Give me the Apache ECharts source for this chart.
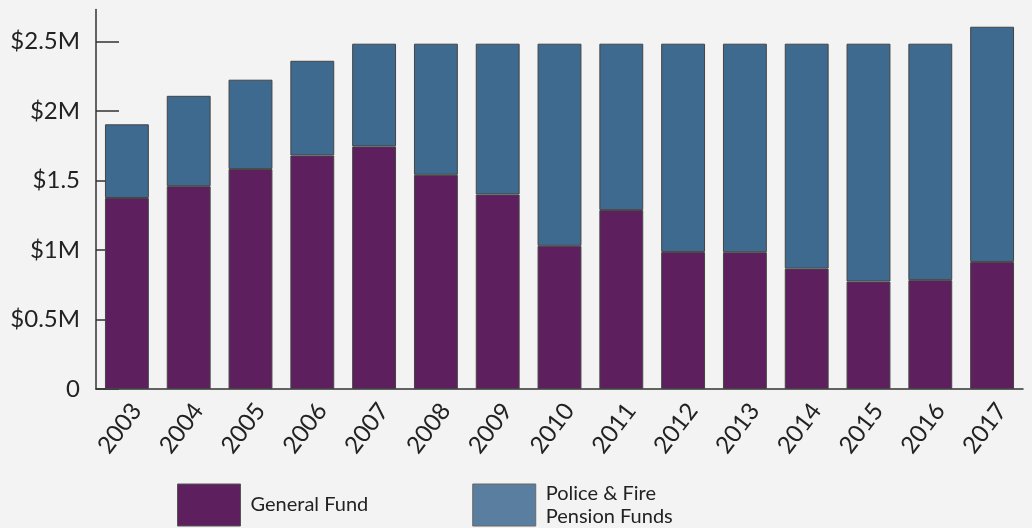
<!DOCTYPE html>
<html>
<head>
<meta charset="utf-8">
<script src="https://cdn.jsdelivr.net/npm/echarts@6/dist/echarts.min.js"></script>
<style>
html,body{margin:0;padding:0;background:#f3f3f3;}
#c{width:1032px;height:528px;}
</style>
</head>
<body>
<div id="c"></div>
<script>
const years = ['2003','2004','2005','2006','2007','2008','2009','2010','2011','2012','2013','2014','2015','2016','2017'];
const generalFund = [1.374,1.459,1.582,1.680,1.745,1.541,1.399,1.030,1.287,0.986,0.984,0.866,0.773,0.783,0.914];
const pensionFunds = [0.530,0.650,0.643,0.681,0.739,0.943,1.085,1.454,1.197,1.498,1.500,1.618,1.711,1.701,1.692];
const yTickValues = [0,0.5,1,1.5,2,2.5];
const yTickLabels = ['0','$0.5M','$1M','$1.5','$2M','$2.5M'];

const FONT = 'Lato';
const chart = echarts.init(document.getElementById('c'));
chart.setOption({
  backgroundColor:'#f3f3f3',
  animation:false,
  grid:{left:96,right:9,top:9.5,bottom:139,containLabel:false},
  legend:{
    left:177, top:482, padding:0,
    itemWidth:63, itemHeight:42, itemGap:104,
    icon:'rect',
    textStyle:{fontFamily:FONT,fontSize:20,color:'#222',lineHeight:23,padding:[0,0,0,5]},
    data:[
      {name:'General Fund',itemStyle:{color:'#5e1f5e',borderColor:'#555',borderWidth:1}},
      {name:'Police & Fire\nPension Funds',itemStyle:{color:'#5a7e9f',borderColor:'#666',borderWidth:1}}
    ]
  },
  xAxis:{
    type:'category',
    data:years,
    axisLine:{lineStyle:{color:'#333',width:1.5}},
    axisTick:{inside:true,length:10,lineStyle:{color:'#333',width:1.5}},
    axisLabel:{rotate:53,margin:10,verticalAlign:'top',fontFamily:FONT,fontSize:24,color:'#222'}
  },
  yAxis:{
    type:'value',
    min:0,max:2.73,
    splitLine:{show:false},
    axisLine:{show:true,lineStyle:{color:'#333',width:1.5}},
    axisTick:{show:true,inside:true,length:23,customValues:yTickValues,lineStyle:{color:'#333',width:1.5}},
    axisLabel:{
      customValues:yTickValues,
      margin:16,fontFamily:FONT,fontSize:24,color:'#222',
      formatter:function(v){const i=yTickValues.findIndex(t=>Math.abs(t-v)<1e-6);return i>=0?yTickLabels[i]:'';}
    }
  },
  series:[
    {name:'General Fund',type:'bar',stack:'t',data:generalFund,barCategoryGap:'29%',
     itemStyle:{color:'#5e1f5e',borderColor:'#444',borderWidth:1}},
    {name:'Police & Fire\nPension Funds',type:'bar',stack:'t',data:pensionFunds,barCategoryGap:'29%',
     itemStyle:{color:'#3e6a90',borderColor:'#444',borderWidth:1}}
  ]
});
</script>
</body>
</html>
